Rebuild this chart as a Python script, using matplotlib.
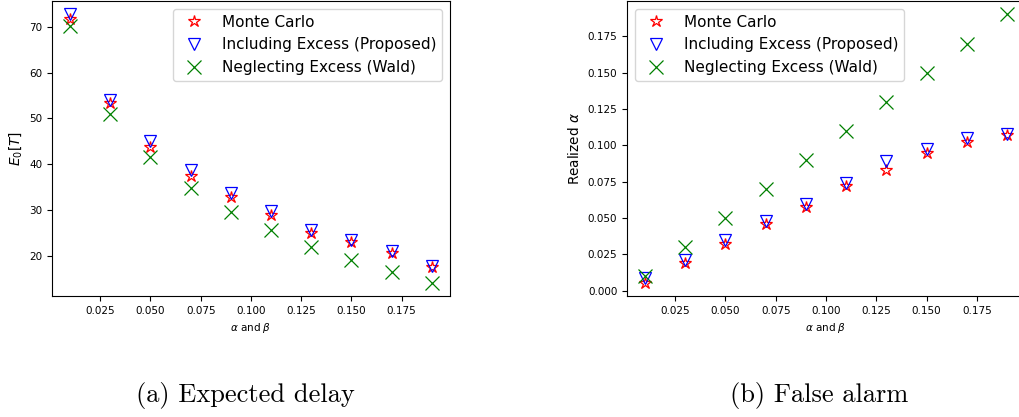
import numpy as np
import matplotlib
matplotlib.use('Agg')
import matplotlib.pyplot as plt

# alpha = beta values
ab = [0.01, 0.03, 0.05, 0.07, 0.09, 0.11, 0.13, 0.15, 0.17, 0.19]

# expected delay E_0[T]
delay_mc = [71.6, 53.4, 43.7, 37.4, 32.7, 28.8, 25.0, 22.9, 20.5, 17.4]
delay_incl = [72.7, 54.1, 45.1, 38.8, 33.6, 29.7, 25.5, 23.5, 21.1, 17.8]
delay_wald = [70.1, 50.9, 41.5, 34.7, 29.6, 25.6, 21.9, 19.0, 16.4, 14.1]

# realized false alarm
fa_mc = [0.0057, 0.019, 0.0324, 0.0463, 0.0577, 0.0719, 0.0828, 0.0947, 0.102, 0.107]
fa_incl = [0.009, 0.021, 0.035, 0.048, 0.060, 0.074, 0.089, 0.0976, 0.105, 0.108]
fa_wald = [0.01, 0.03, 0.05, 0.07, 0.09, 0.11, 0.13, 0.15, 0.17, 0.19]

labels = ['Monte Carlo', 'Including Excess (Proposed)', 'Neglecting Excess (Wald)']


def panel(ax, mc, incl, wald, ylabel, loc):
    ax.plot(ab, mc, linestyle='none', marker='*', ms=9, mfc='none',
            mec='r', mew=0.9, label=labels[0])
    ax.plot(ab, incl, linestyle='none', marker='v', ms=9, mfc='none',
            mec='b', mew=0.9, label=labels[1])
    ax.plot(ab, wald, linestyle='none', marker='x', ms=9.5, color='g',
            mew=0.9, label=labels[2])
    ax.set_xticks([0.025, 0.05, 0.075, 0.1, 0.125, 0.15, 0.175])
    ax.tick_params(labelsize=7.5)
    ax.set_xlabel(r'$\alpha$ and $\beta$', fontsize=7.5)
    ax.set_ylabel(ylabel, fontsize=9.8)
    ax.legend(loc=loc, fontsize=11)


fig = plt.figure(figsize=(10.19, 4.17), dpi=100)
ax1 = fig.add_axes([0.051, 0.2902, 0.3906, 0.7074])
ax2 = fig.add_axes([0.6153, 0.2902, 0.3906, 0.7074])

panel(ax1, delay_mc, delay_incl, delay_wald, r'$E_0[T]$', 'upper right')
ax1.set_yticks([20, 30, 40, 50, 60, 70])

panel(ax2, fa_mc, fa_incl, fa_wald, r'Realized $\alpha$', 'upper left')
ax2.set_yticks([0.0, 0.025, 0.05, 0.075, 0.1, 0.125, 0.15, 0.175])
ax2.yaxis.set_major_formatter(matplotlib.ticker.FormatStrFormatter('%.3f'))

fig.text(0.2405, 0.052, '(a) Expected delay', family='cmr10', fontsize=19,
         ha='center', va='center')
fig.text(0.804, 0.052, '(b) False alarm', family='cmr10', fontsize=19,
         ha='center', va='center')

plt.savefig('out.png', dpi=100)
plt.close()
